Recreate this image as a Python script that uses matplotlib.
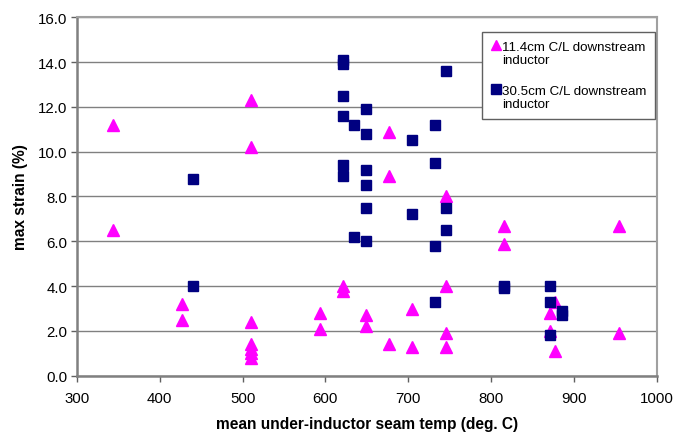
import matplotlib
matplotlib.use("Agg")
import numpy as np
import matplotlib.pyplot as plt
from matplotlib.ticker import FormatStrFormatter, MultipleLocator

plt.rcParams['font.family'] = ['Liberation Sans', 'DejaVu Sans']

# 11.4cm C/L downstream inductor (magenta triangles)
tri_temp = [343, 343, 427, 427, 510, 510, 510, 510, 510, 510, 510,
            593, 593, 621, 621, 649, 649, 677, 677, 677, 705, 705,
            746, 746, 746, 746, 816, 816, 877, 871, 871, 877, 955, 955]
tri_strain = [11.2, 6.5, 3.2, 2.5, 12.3, 10.2, 2.4, 1.4, 1.2, 1.0, 0.8,
              2.8, 2.1, 4.0, 3.8, 2.7, 2.2, 10.9, 8.9, 1.4, 3.0, 1.3,
              8.0, 4.0, 1.9, 1.3, 6.7, 5.9, 3.3, 2.8, 2.0, 1.1, 6.7, 1.9]

# 30.5cm C/L downstream inductor (navy squares)
sq_temp = [440, 440, 621, 621, 621, 621, 621, 621, 635, 635,
           649, 649, 649, 649, 649, 649, 705, 705, 732, 732, 732, 732,
           746, 746, 746, 816, 816, 871, 871, 871, 886, 886]
sq_strain = [8.8, 4.0, 14.1, 13.9, 12.5, 11.6, 9.4, 8.9, 11.2, 6.2,
             11.9, 10.8, 9.2, 8.5, 7.5, 6.0, 10.5, 7.2, 11.2, 9.5, 5.8, 3.3,
             13.6, 7.5, 6.5, 4.0, 3.9, 4.0, 3.3, 1.8, 2.9, 2.7]

fig = plt.figure(figsize=(6.77, 4.35), dpi=100)
ax = fig.add_axes([0.1137, 0.134, 0.8563, 0.824])

ax.plot(tri_temp, tri_strain, linestyle='none', marker='^', markersize=8,
        color='#FF00FF', markeredgecolor='#FF00FF', zorder=3,
        label='11.4cm C/L downstream\ninductor')
ax.plot(sq_temp, sq_strain, linestyle='none', marker='s', markersize=6.5,
        color='#000080', markeredgecolor='#000080', zorder=4,
        label='30.5cm C/L downstream\ninductor')

ax.set_xlim(300, 1000)
ax.set_ylim(0, 16)
ax.xaxis.set_major_locator(MultipleLocator(100))
ax.yaxis.set_major_locator(MultipleLocator(2))
ax.yaxis.set_major_formatter(FormatStrFormatter('%.1f'))
ax.grid(True, axis='y', color='#808080', linewidth=1.0, zorder=0)
ax.set_axisbelow(True)

for side in ['left', 'bottom']:
    ax.spines[side].set_color('#808080')
    ax.spines[side].set_linewidth(1.8)
for side in ['top', 'right']:
    ax.spines[side].set_color('#a0a0a0')
    ax.spines[side].set_linewidth(1.5)

ax.tick_params(axis='both', direction='out', length=4, width=1,
               color='#606060', labelsize=10.8)
ax.tick_params(axis='x', pad=7)
ax.tick_params(axis='y', pad=3)

ax.set_xlabel('mean under-inductor seam temp (deg. C)', fontsize=11.2,
              fontweight='bold', labelpad=8)
ax.set_ylabel('max strain (%)', fontsize=11.2, fontweight='bold', labelpad=7)

leg = ax.legend(loc='upper left', bbox_to_anchor=(0.699, 0.959),
                fontsize=9.6, frameon=True, fancybox=False, shadow=False,
                handlelength=0.7, handletextpad=0.15, borderpad=0.65,
                labelspacing=1.4, borderaxespad=0, numpoints=1)
leg.get_frame().set_edgecolor('#606060')
leg.get_frame().set_linewidth(1.0)
leg.get_frame().set_alpha(1)
for txt in leg.get_texts():
    txt.set_linespacing(1.15)
# lift the legend markers to the first text line
for h in leg.legend_handles:
    h.set_ydata(np.asarray(h.get_ydata()) + 6)
    h.set_markersize(7.5 if h.get_marker() == '^' else 6.5)

fig.savefig('out.png', dpi=100)
